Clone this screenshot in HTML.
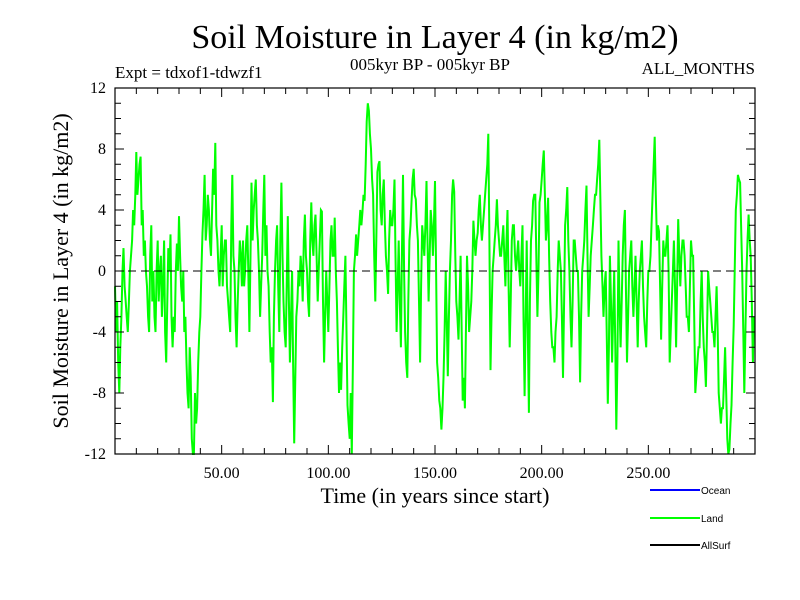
<!DOCTYPE html>
<html><head><meta charset="utf-8"><style>
body{margin:0;background:#fff;}
svg{display:block;font-family:"Liberation Serif",serif;}
</style></head><body>
<svg id="chart" width="800" height="600" viewBox="0 0 800 600" xmlns="http://www.w3.org/2000/svg">
<rect width="800" height="600" fill="#fff"/>
<text x="435" y="48" font-size="34" text-anchor="middle">Soil Moisture in Layer 4 (in kg/m2)</text>
<text x="115" y="78" font-size="17">Expt = tdxof1-tdwzf1</text>
<text x="430" y="70" font-size="17" text-anchor="middle">005kyr BP - 005kyr BP</text>
<text x="755" y="74" font-size="17" text-anchor="end">ALL_MONTHS</text>
<text transform="translate(68,271) rotate(-90)" font-size="22" text-anchor="middle">Soil Moisture in Layer 4 (in kg/m2)</text>
<text x="435" y="503" font-size="22" text-anchor="middle">Time (in years since start)</text>
<g id="plot"></g>
<g font-family="Liberation Sans, sans-serif" font-size="10">
<line x1="650" y1="490" x2="700" y2="490" stroke="#0000ff" stroke-width="2"/>
<text x="701" y="494">Ocean</text>
<line x1="650" y1="518" x2="700" y2="518" stroke="#00ff00" stroke-width="2"/>
<text x="701" y="522">Land</text>
<line x1="650" y1="545" x2="700" y2="545" stroke="#000" stroke-width="2"/>
<text x="701" y="549">AllSurf</text>
</g>
</svg>
<script>
const years = Array.from({length:300},(_,i)=>i);
const landValues = [
-1,-2,-8,-3,1.5,-2,-4,0,2,3,
7.8,6,7.5,4,2,-1,-4,3,0,-4,
2,0,-3,2,-6,1.5,2.4,-5,-4,1.8,
3.6,-1,0,-3,-8,-5,-11,-12,-10,-6,
-3,2.5,6.3,3,4,1,6.7,8.4,2,-1,
3,1,2,-2,-4,6.3,0,-5,0,1,
2,0,3,-4,5.8,4,6,2,-3,1,
6.3,3,-1,-6,-8.6,0,3,-4,5.8,-2,
-5,3.6,-6,0,-11.3,-3,0,1,-2,3.7,
0,-3,4.5,1,3.7,-2,2,3.9,-6,0,
-4,2,1,3.5,-2,-8,-7.8,-3,1,-8.8,
-11,-12,0,2.4,2,4,3.9,4.6,9.8,10.5,
8,5,-2,6.5,7.2,3,6,1,-1.5,4,
3,6,-4,2,-5,6.3,-4,-7,2,4.5,
6.7,4.7,2,-6,3,1,5.9,-2,4,1,
5.9,-6,-8.5,-10.4,-7,0,-6.9,0,5,5.2,
-2,-4.5,1,-8.5,-9,1,-4,-2,3.3,1,
2.5,5,2,4,6,9,-6.5,0,2,4.7,
2,1,3,-1,4,-5,2,3,0,2,
-1,3,-8.2,2,-9.3,2,4.6,5,-3,4.5,
6,7.9,2,4.8,-2,-5,-6,-3,2,0,
-7,3,5.5,0,-5,2,1,0,-7.3,0,
2,5.6,-3,1,3,5,6,8.6,1,-3,
0,-8.7,1,-6,0,-10.4,2,-5,1,4,
-6,0,2,-3,1,-5,0,2,-3,-5,
0,1,5,8.8,2,2.6,-4.5,2,1,3,
-6,-2,2,-5,3.4,-1,2,1,-3,-4,
2,1,-8,-6,-5,0,-5,-7.6,0,-2,
-4,-5,-1,-8,-10,-9,-5,-11,-11.7,-8.8,
-3.6,4,6.3,5.8,0,-8,0,3.7,1,-6];
const landMidValues = [
-4,-6,-5,0,-1,-3,-2,1,4,5,
5,7,3,1,0,-3,1,-2,-3,0,
-2,1,-1,-4,-2,0,-3,-3,0,0,
1,-2,-4,-6,-9,-7,-12,-8,-9,-4,
0,4,2,5,2,4,5,3,0,1,
-1,2,-1,-3,3,1,-3,-2,2,-1,
-1,2,0,1,2,5,3,0,-1,4,
1,0,-4,-5,-3,2,-1,2,1,-4,
-1,-2,-3,-6,-7,-2,-1,0,2,1,
-2,2,2,3,1,0,4,-2,-3,-2,
-1,3,1,0,-5,-6,-5,-1,-4,-10,
-8,-6,1,1,3,3,5,7,11,9,
6,1,2,7,4,5,3,0,2,3,
4,1,-1,-2,1,0,-6,-2,3,6,
5,3,-2,-1,2,3,2,1,3,3,
0,-7,-9,-9,-4,-3,-3,2,6,1,
-3,-2,-4,-7,-4,-1,-3,0,2,2,
4,3,3,5,7,2,-3,1,3,3,
1,2,1,2,-1,-2,3,1,1,0,
1,-3,-3,-4,-2,3,5,1,0,5,
7,5,3,1,-4,-5,-4,0,1,-3,
-2,4,2,-3,-2,2,0,-3,-3,1,
4,1,-1,2,4,5,7,5,-1,-1,
-4,-5,-2,-3,-5,-6,-2,-2,3,-1,
-3,1,-1,-1,-2,-2,1,-1,-4,-2,
0,3,7,5,3,-1,-1,1,2,0,
-4,0,-1,-1,1,1,2,-1,-3,-1,
1,-3,-7,-5,-2,-3,-6,-4,-1,-3,
-4,-3,-4,-9,-9,-7,-8,-12,-10,-6,
0,5,6,3,-4,-4,2,2,-2,-3];
const xTickValues = [50,100,150,200,250];
const xTickLabels = ["50.00","100.00","150.00","200.00","250.00"];
const yTickValues = [-12,-8,-4,0,4,8,12];
const yTickLabels = ["-12","-8","-4","0","4","8","12"];

const L=115,R=755,T=88,B=454, X0=0,X1=300, Y0=-12,Y1=12;
const sx=v=>L+(v-X0)/(X1-X0)*(R-L);
const sy=v=>B-(Math.max(Y0,Math.min(Y1,v))-Y0)/(Y1-Y0)*(B-T);
const NS="http://www.w3.org/2000/svg";
const g=document.getElementById('plot');
function mk(t,a){const e=document.createElementNS(NS,t);for(const k in a)e.setAttribute(k,a[k]);g.appendChild(e);return e;}

// series: yearly values interleaved with mid-year readings
let pts=[];
years.forEach((x,i)=>{pts.push([x,landValues[i]]);pts.push([x+0.5,landMidValues[i]]);});
let d=pts.map((p,i)=>(i?'L':'M')+sx(p[0]).toFixed(1)+','+sy(p[1]).toFixed(1)).join('');
const line=mk('path',{d:d,fill:'none',stroke:'#00ff00','stroke-width':2,'stroke-linejoin':'miter'});


// zero line
const z=mk('line',{x1:L,x2:R,y1:sy(0),y2:sy(0),stroke:'#000','stroke-width':1,'stroke-dasharray':'8,5'});


// frame
const fr=mk('rect',{x:L,y:T,width:R-L,height:B-T,fill:'none',stroke:'#000','stroke-width':1.2});


// minor ticks
for(let v=10;v<X1;v+=10){
  const len=(v%50===0)?9:6;
  mk('line',{x1:sx(v),x2:sx(v),y1:T,y2:T+len,stroke:'#000'});
  mk('line',{x1:sx(v),x2:sx(v),y1:B,y2:B-len,stroke:'#000'});
}
for(let v=Y0+1;v<Y1;v++){
  const len=(v%4===0)?9:6;
  mk('line',{x1:L,x2:L+len,y1:sy(v),y2:sy(v),stroke:'#000'});
  mk('line',{x1:R,x2:R-len,y1:sy(v),y2:sy(v),stroke:'#000'});
}
xTickValues.forEach((v,i)=>{
  const t=mk('text',{x:sx(v),y:B+24,'font-size':16,'text-anchor':'middle'});
  t.textContent=xTickLabels[i];
  
  
});
yTickValues.forEach((v,i)=>{
  const t=mk('text',{x:L-9,y:sy(v)+5,'font-size':16,'text-anchor':'end'});
  t.textContent=yTickLabels[i];
  
  
});
</script>
</body></html>
